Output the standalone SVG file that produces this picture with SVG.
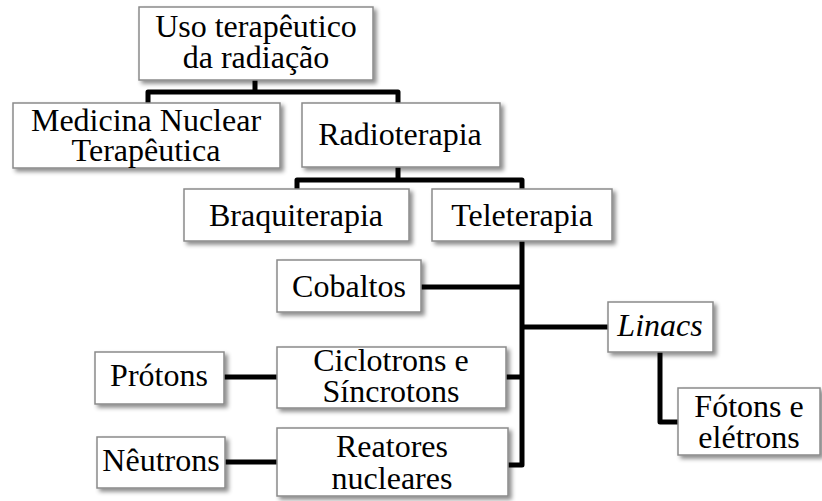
<svg xmlns="http://www.w3.org/2000/svg" width="822" height="501" viewBox="0 0 822 501">
<defs>
<filter id="sh" x="-10%" y="-10%" width="130%" height="140%">
<feDropShadow dx="3" dy="3" stdDeviation="2" flood-color="#000" flood-opacity="0.45"/>
</filter>
<style>
.box{fill:#fff;stroke:#8a8a8a;stroke-width:1.5;filter:url(#sh)}
text{font-family:"Liberation Serif","Times New Roman",serif;font-size:32px;fill:#000;text-anchor:middle}
.it{font-style:italic}
.c{fill:none;stroke:#000;stroke-width:5;stroke-linejoin:round}
</style>
</defs>
<rect width="822" height="501" fill="#fff"/>
<g id="connectors">
<path class="c" d="M255,80 V92 M148,103 V92 H398 V103"/>
<path class="c" d="M398,167 V180 M297,189 V180 H522 V189"/>
<path class="c" d="M522,241 V465 H508"/>
<path class="c" d="M421,287 H522"/>
<path class="c" d="M522,327 H608"/>
<path class="c" d="M506,377 H522"/>
<path class="c" d="M224,377 H277"/>
<path class="c" d="M225,462 H277"/>
<path class="c" d="M660,352 V422 H678"/>
</g>
<g id="n-uso"><rect class="box" x="139" y="7" width="234" height="73"/><text x="256" y="37">Uso terapêutico</text><text x="256" y="68">da radiação</text></g>
<g id="n-medicina"><rect class="box" x="13" y="103" width="267" height="65"/><text x="146" y="131">Medicina Nuclear</text><text x="146" y="161">Terapêutica</text></g>
<g id="n-radioterapia"><rect class="box" x="302" y="103" width="198" height="64"/><text x="400" y="145">Radioterapia</text></g>
<g id="n-braquiterapia"><rect class="box" x="184" y="189" width="225" height="52"/><text x="296" y="226">Braquiterapia</text></g>
<g id="n-teleterapia"><rect class="box" x="432" y="189" width="180" height="52"/><text x="522" y="226">Teleterapia</text></g>
<g id="n-cobaltos"><rect class="box" x="277" y="260" width="144" height="52"/><text x="349" y="297">Cobaltos</text></g>
<g id="n-linacs"><rect class="box" x="608" y="302" width="105" height="50"/><text class="it" x="660" y="336">Linacs</text></g>
<g id="n-fotons"><rect class="box" x="678" y="388" width="142" height="67"/><text x="749" y="417">Fótons e</text><text x="749" y="448">elétrons</text></g>
<g id="n-ciclotrons"><rect class="box" x="277" y="347" width="229" height="61"/><text x="391" y="371">Ciclotrons e</text><text x="391" y="402">Síncrotons</text></g>
<g id="n-protons"><rect class="box" x="95" y="352" width="129" height="52"/><text x="159" y="386">Prótons</text></g>
<g id="n-reatores"><rect class="box" x="277" y="428" width="231" height="68"/><text x="392" y="457">Reatores</text><text x="392" y="489">nucleares</text></g>
<g id="n-neutrons"><rect class="box" x="97" y="437" width="128" height="51"/><text x="161" y="471">Nêutrons</text></g>
</svg>
